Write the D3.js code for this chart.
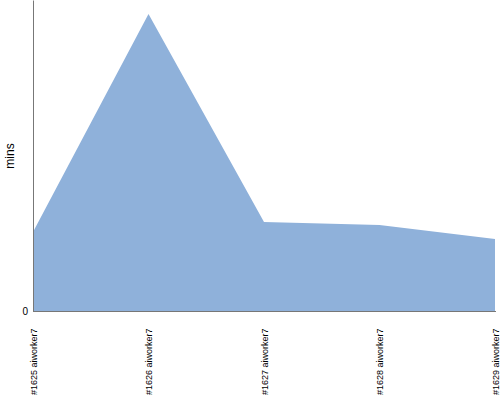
<!DOCTYPE html>
<html><head><meta charset="utf-8">
<script src="https://cdn.jsdelivr.net/npm/d3@7"></script>
<style>body{margin:0;background:#fff}svg{display:block}text{font-family:"Liberation Sans",Arial,sans-serif}</style>
</head><body>
<svg id="c" width="500" height="400"></svg>
<script>
const categories = ["#1625 aiworker7","#1626 aiworker7","#1627 aiworker7","#1628 aiworker7","#1629 aiworker7"];
const values = [0.79, 2.97, 0.89, 0.86, 0.72];
const yTicks = [0];
const yMax = 3.11;

const svg = d3.select("#c");
const m = {l:33, r:5, t:0, b:89};
const W = 500, H = 400;
const x = d3.scalePoint().domain(categories).range([m.l, W - m.r]);
const y = d3.scaleLinear().domain([0, yMax]).range([H - m.b, m.t]);

const area = d3.area().x((d,i)=>x(categories[i])).y0(y(0)).y1(d=>y(d));
svg.append("path").datum(values).attr("d", area).attr("fill", "#8fb1da");

const yAxis = svg.append("g").attr("transform", `translate(${m.l},0)`)
  .call(d3.axisLeft(y).tickValues(yTicks).tickFormat(d3.format("d")).tickSize(0).tickPadding(5).tickSizeOuter(0));
yAxis.select(".domain").attr("stroke", "#777");
yAxis.selectAll(".tick text").attr("font-size", 10).attr("fill", "#000");

const xAxis = svg.append("g").attr("transform", `translate(0,${y(0)})`)
  .call(d3.axisBottom(x).tickSize(0).tickSizeOuter(0));
xAxis.select(".domain").attr("stroke", "#777").attr("d", `M${m.l},0.5H${W-4}`);
xAxis.selectAll(".tick text")
  .attr("font-size", 9).attr("fill", "#000")
  .attr("text-anchor", "start")
  .attr("transform", "rotate(-90)")
  .attr("x", -84).attr("y", 0).attr("dy", "0.35em");

svg.append("text").attr("transform", "translate(14,156) rotate(-90)")
  .attr("text-anchor", "middle").attr("font-size", 12).text("mins");
</script>
</body></html>
